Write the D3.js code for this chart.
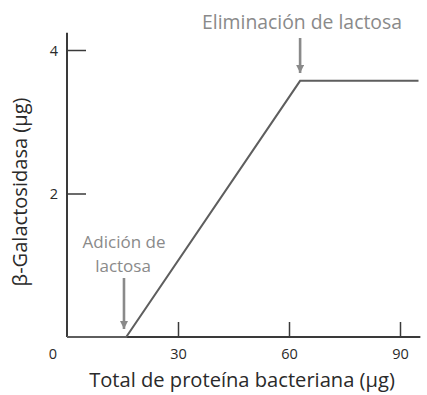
<!DOCTYPE html>
<html>
<head>
<meta charset="utf-8">
<script src="https://cdn.jsdelivr.net/npm/d3@7"></script>
<style>
  html, body { margin: 0; padding: 0; background: #fff; }
  svg { display: block; }
  text { font-family: "Open Sans", "Noto Sans", sans-serif; }
</style>
</head>
<body>
<svg id="chart" width="427" height="395"></svg>
<script>
// Total bacterial protein (µg) vs. β-galactosidase (µg)
const proteinValues = [0, 16, 63, 95];
const enzymeValues  = [0, 0, 3.57, 3.57];
const xTickValues = [30, 60, 90];
const yTickValues = [2, 4];

const addLabelLines = ["Adición de", "lactosa"];
const removeLabel = "Eliminación de lactosa";
const addAt = 16;       // lactose added
const removeAt = 63;    // lactose removed

const svg = d3.select("#chart");

const x = d3.scaleLinear().domain([0, 90]).range([67, 400]);
const y = d3.scaleLinear().domain([0, 4]).range([337, 50]);
const xEnd = 95.5, yEnd = 4.24;

const axisColor = "#3a3a3a";
const lineColor = "#5e5e5e";
const noteColor = "#8a8a8a";

// fit text to a given width by scaling its font size
function fitText(sel, targetWidth) {
  const node = sel.node();
  const base = parseFloat(sel.attr("font-size"));
  const w = node.getComputedTextLength();
  if (w > 0) sel.attr("font-size", (base * targetWidth / w).toFixed(2));
  return sel;
}

// axes
const xAxis = d3.axisBottom(x).tickValues(xTickValues).tickFormat(d3.format("d"))
  .tickSizeInner(-15).tickSizeOuter(0).tickPadding(0);
const gx = svg.append("g").attr("transform", `translate(0,${y(0)})`).call(xAxis);
gx.select(".domain").attr("d", `M${x(0)},0H${x(xEnd)}`).attr("stroke", axisColor).attr("stroke-width", 2);
gx.selectAll(".tick line").attr("stroke", axisColor).attr("stroke-width", 1.5);
gx.selectAll(".tick text").attr("y", 22).attr("dy", "0").attr("fill", "#2a2a2a")
  .attr("font-size", 14.5).attr("font-family", "\"Open Sans\", sans-serif");

const yAxis = d3.axisLeft(y).tickValues(yTickValues).tickFormat(d3.format("d"))
  .tickSizeInner(-19).tickSizeOuter(0).tickPadding(0);
const gy = svg.append("g").attr("transform", `translate(${x(0)},0)`).call(yAxis);
gy.select(".domain").attr("d", `M0,${y(0)}V${y(yEnd)}`).attr("stroke", axisColor).attr("stroke-width", 2);
gy.selectAll(".tick line").attr("stroke", axisColor).attr("stroke-width", 1.5);
gy.selectAll(".tick text").attr("x", -9).attr("dy", "0.35em").attr("fill", "#2a2a2a")
  .attr("font-size", 14.5).attr("font-family", "\"Open Sans\", sans-serif");

// origin label
svg.append("text").attr("x", 53).attr("y", y(0) + 22)
  .attr("text-anchor", "middle").attr("fill", "#2a2a2a").attr("font-size", 14.5).text("0");

// data line
const pts = proteinValues.map((v, i) => [v, enzymeValues[i]]);
svg.append("path")
  .datum(pts)
  .attr("fill", "none")
  .attr("stroke", lineColor)
  .attr("stroke-width", 2)
  .attr("d", d3.line().x(d => x(d[0])).y(d => y(d[1])));

// arrows
const defs = svg.append("defs");
defs.append("marker")
  .attr("id", "head")
  .attr("viewBox", "0 0 10 10")
  .attr("refX", 10).attr("refY", 5)
  .attr("markerWidth", 3.2).attr("markerHeight", 3.2)
  .attr("markerUnits", "strokeWidth")
  .attr("orient", "auto")
  .append("path").attr("d", "M0,0L10,5L0,10Z").attr("fill", noteColor);

function arrow(xv, y1, y2) {
  svg.append("line")
    .attr("x1", x(xv)).attr("x2", x(xv))
    .attr("y1", y1).attr("y2", y2)
    .attr("stroke", noteColor).attr("stroke-width", 2.6)
    .attr("marker-end", "url(#head)");
}
arrow(addAt - 0.6, 278, 329);
arrow(removeAt, 38, 73);

// annotations
const rm = svg.append("text").attr("x", 302).attr("y", 29)
  .attr("text-anchor", "middle").attr("fill", noteColor).attr("font-size", 15)
  .text(removeLabel);
fitText(rm, 200);

svg.append("text").attr("x", 124).attr("y", 248)
  .attr("text-anchor", "middle").attr("fill", noteColor).attr("font-size", 17)
  .text(addLabelLines[0]);
svg.append("text").attr("x", 123).attr("y", 272)
  .attr("text-anchor", "middle").attr("fill", noteColor).attr("font-size", 17)
  .text(addLabelLines[1]);

// axis titles
const xt = svg.append("text").attr("x", 242).attr("y", 387)
  .attr("text-anchor", "middle").attr("fill", "#2a2a2a").attr("font-size", 16)
  .text("Total de proteína bacteriana (µg)");
fitText(xt, 306);

const yt = svg.append("text")
  .attr("transform", `translate(27,192) rotate(-90)`)
  .attr("text-anchor", "middle").attr("fill", "#2a2a2a").attr("font-size", 16)
  .text("β-Galactosidasa (µg)");
fitText(yt, 189);
</script>
</body>
</html>
